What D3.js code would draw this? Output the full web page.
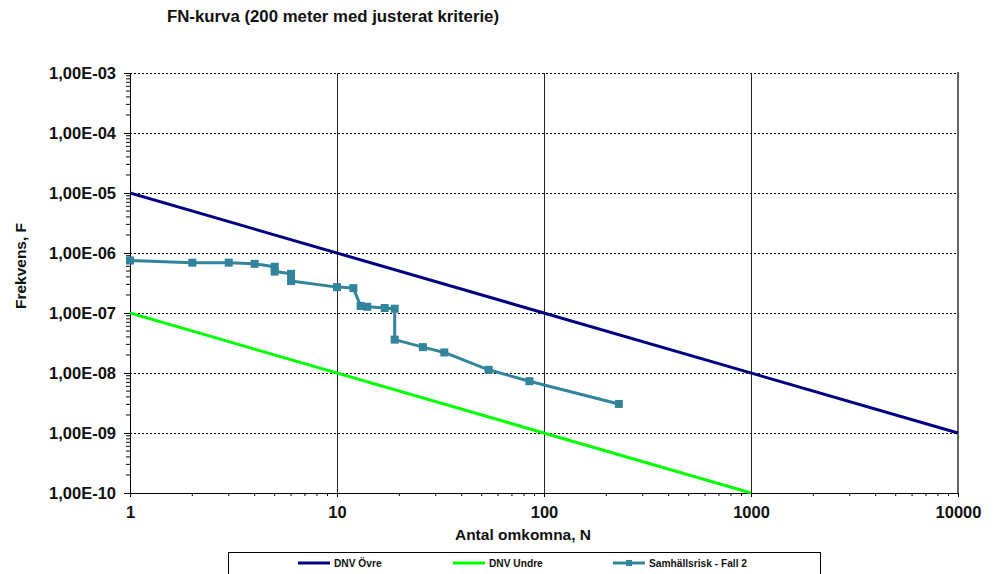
<!DOCTYPE html>
<html>
<head>
<meta charset="utf-8">
<script src="https://cdn.jsdelivr.net/npm/d3@7"></script>
<style>
  html, body { margin: 0; padding: 0; background: #fff; }
  svg { display: block; font-family: "Liberation Sans", Arial, sans-serif; }
</style>
</head>
<body>
<svg id="chart" width="998" height="574"></svg>
<script>
// Samhällsrisk - Fall 2: number of fatalities N and cumulative frequency F
const riskN = [1, 2, 3, 4, 5, 5, 6, 6, 10, 12, 13, 14, 17, 19, 19, 26, 33, 54, 85, 230];
const riskF = [7.5e-7, 6.9e-7, 6.9e-7, 6.6e-7, 5.9e-7, 4.9e-7, 4.5e-7, 3.4e-7, 2.7e-7, 2.6e-7,
               1.31e-7, 1.27e-7, 1.21e-7, 1.18e-7, 3.6e-8, 2.7e-8, 2.2e-8, 1.13e-8, 7.3e-9, 3.05e-9];

// DNV criteria lines (end points)
const upperN = [1, 10000];
const upperF = [1e-5, 1e-9];
const lowerN = [1, 1000];
const lowerF = [1e-7, 1e-10];

// Axis ticks
const xTicks = [1, 10, 100, 1000, 10000];
const xTickLabels = ["1", "10", "100", "1000", "10000"];
const yTicks = [1e-3, 1e-4, 1e-5, 1e-6, 1e-7, 1e-8, 1e-9, 1e-10];
const yTickLabels = ["1,00E-03", "1,00E-04", "1,00E-05", "1,00E-06", "1,00E-07", "1,00E-08", "1,00E-09", "1,00E-10"];

const seriesNames = ["DNV Övre", "DNV Undre", "Samhällsrisk - Fall 2"];
const seriesColors = ["#000080", "#00ff00", "#31849b"];

const svg = d3.select("#chart");
const plot = { left: 130, right: 958, top: 73, bottom: 493 };

const x = d3.scaleLog().domain([1, 10000]).range([plot.left, plot.right]);
const y = d3.scaleLog().domain([1e-10, 1e-3]).range([plot.bottom, plot.top]);

// Title
svg.append("text")
  .attr("x", 167).attr("y", 22)
  .attr("font-size", 16.8).attr("font-weight", "bold")
  .attr("fill", "#111")
  .text("FN-kurva (200 meter med justerat kriterie)");

// Horizontal dashed gridlines at every decade
svg.append("g").selectAll("line")
  .data(yTicks.filter(d => d !== 1e-10))
  .join("line")
  .attr("x1", plot.left).attr("x2", plot.right)
  .attr("y1", d => y(d)).attr("y2", d => y(d))
  .attr("stroke", "#000").attr("stroke-width", 1)
  .attr("stroke-dasharray", "2,2")
  .attr("shape-rendering", "crispEdges");

// Vertical solid gridlines
svg.append("g").selectAll("line")
  .data(xTicks.filter(d => d !== 1 && d !== 10000))
  .join("line")
  .attr("x1", d => Math.round(x(d)) + 0.5).attr("x2", d => Math.round(x(d)) + 0.5)
  .attr("y1", plot.top).attr("y2", plot.bottom)
  .attr("stroke", "#222").attr("stroke-width", 1);

// Right border of the plot area
svg.append("line")
  .attr("x1", plot.right).attr("x2", plot.right)
  .attr("y1", plot.top - 1).attr("y2", plot.bottom)
  .attr("stroke", "#666").attr("stroke-width", 2);

// Minor tick values for log axes
function minorTicks(lo, hi) {
  const out = [];
  for (let e = lo; e < hi; e++) {
    for (let m = 2; m <= 9; m++) out.push(m * Math.pow(10, e));
  }
  return out;
}

// Y axis
const yAxis = svg.append("g").attr("transform", `translate(${plot.left},0)`);
yAxis.call(d3.axisLeft(y).tickValues(yTicks).tickSize(6).tickFormat((d, i) => yTickLabels[i]));
yAxis.select(".domain").attr("stroke", "#000");
yAxis.selectAll(".tick line").attr("stroke", "#000");
yAxis.selectAll(".tick text")
  .attr("x", -14)
  .attr("font-size", 16.5).attr("font-weight", "bold")
  .attr("font-family", "Liberation Sans, Arial, sans-serif")
  .attr("fill", "#111");
yAxis.append("g").selectAll("line")
  .data(minorTicks(-10, -3))
  .join("line")
  .attr("x1", -4).attr("x2", 0)
  .attr("y1", d => y(d)).attr("y2", d => y(d))
  .attr("stroke", "#000").attr("stroke-width", 1);

// X axis
const xAxis = svg.append("g").attr("transform", `translate(0,${plot.bottom})`);
xAxis.call(d3.axisBottom(x).tickValues(xTicks).tickSize(4).tickFormat((d, i) => xTickLabels[i]));
xAxis.select(".domain").attr("stroke", "#000");
xAxis.selectAll(".tick line").attr("stroke", "#000");
xAxis.selectAll(".tick text")
  .attr("y", 13)
  .attr("font-size", 16.5).attr("font-weight", "bold")
  .attr("font-family", "Liberation Sans, Arial, sans-serif")
  .attr("fill", "#111");
xAxis.append("g").selectAll("line")
  .data(minorTicks(0, 4))
  .join("line")
  .attr("x1", d => x(d)).attr("x2", d => x(d))
  .attr("y1", 0).attr("y2", 3)
  .attr("stroke", "#000").attr("stroke-width", 1);

// Axis titles
svg.append("text")
  .attr("x", 523).attr("y", 540)
  .attr("text-anchor", "middle")
  .attr("font-size", 15.5).attr("font-weight", "bold").attr("fill", "#111")
  .text("Antal omkomna, N");

svg.append("text")
  .attr("transform", "translate(26,266) rotate(-90)")
  .attr("text-anchor", "middle")
  .attr("font-size", 15.5).attr("font-weight", "bold").attr("fill", "#111")
  .text("Frekvens, F");

// Series lines
const line = d3.line().x(d => x(d[0])).y(d => y(d[1]));
svg.append("clipPath").attr("id", "plotclip")
  .append("rect")
  .attr("x", plot.left).attr("y", plot.top - 2)
  .attr("width", plot.right - plot.left + 2).attr("height", plot.bottom - plot.top + 3);

const lines = svg.append("g").attr("clip-path", "url(#plotclip)");
lines.append("path")
  .datum(d3.zip(upperN, upperF))
  .attr("d", line).attr("fill", "none")
  .attr("stroke", seriesColors[0]).attr("stroke-width", 3);
lines.append("path")
  .datum(d3.zip(lowerN, lowerF))
  .attr("d", line).attr("fill", "none")
  .attr("stroke", seriesColors[1]).attr("stroke-width", 3);

const riskData = d3.zip(riskN, riskF);
svg.append("path")
  .datum(riskData)
  .attr("d", line).attr("fill", "none")
  .attr("stroke", seriesColors[2]).attr("stroke-width", 3)
  .attr("stroke-linejoin", "round");
svg.append("g").selectAll("rect")
  .data(riskData)
  .join("rect")
  .attr("x", d => x(d[0]) - 4).attr("y", d => y(d[1]) - 4)
  .attr("width", 8).attr("height", 8)
  .attr("fill", seriesColors[2]);

// Legend
const legend = svg.append("g");
legend.append("rect")
  .attr("x", 228.5).attr("y", 552.5)
  .attr("width", 592).attr("height", 40)
  .attr("fill", "#fff").attr("stroke", "#000").attr("stroke-width", 1);

const legendX = [298, 453, 613];
seriesNames.forEach((name, i) => {
  const g = legend.append("g").attr("transform", `translate(${legendX[i]},563)`);
  g.append("line")
    .attr("x1", 0).attr("x2", 32)
    .attr("y1", 0).attr("y2", 0)
    .attr("stroke", seriesColors[i]).attr("stroke-width", 3);
  if (i === 2) {
    g.append("rect")
      .attr("x", 13).attr("y", -3)
      .attr("width", 6).attr("height", 6)
      .attr("fill", seriesColors[i]);
  }
  g.append("text")
    .attr("x", 36).attr("y", 4)
    .attr("font-size", 10.2).attr("font-weight", "bold").attr("fill", "#111")
    .text(name);
});
</script>
</body>
</html>
